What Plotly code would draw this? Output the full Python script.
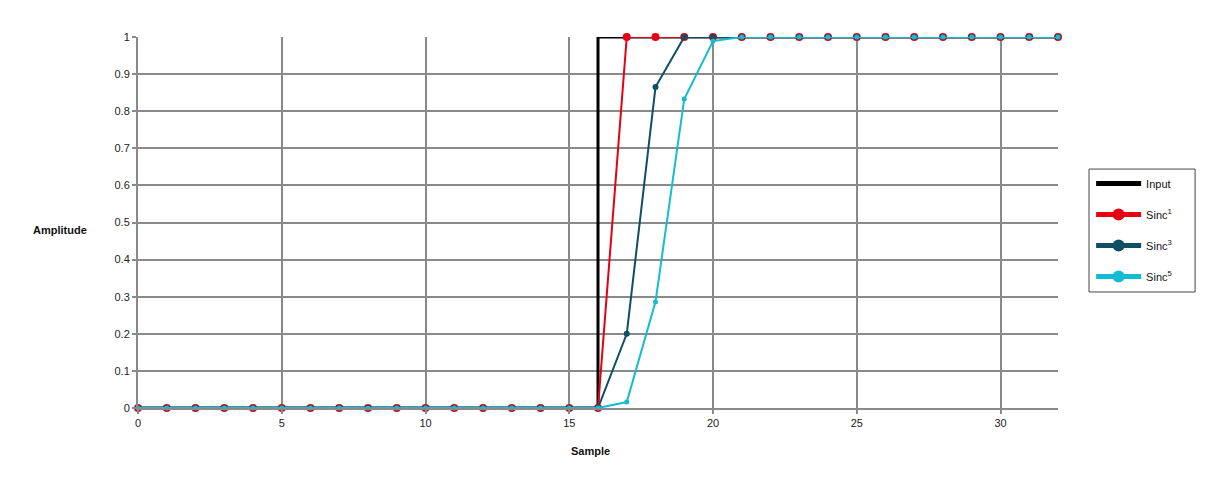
import plotly.graph_objects as go

samples = list(range(33))
input_y = [0] * 16 + [1] * 17
sinc1_y = [0] * 17 + [1] * 16
sinc3_y = [0] * 17 + [0.2, 0.865] + [1] * 14
sinc5_y = [0] * 17 + [0.016, 0.286, 0.833, 0.989] + [1] * 12

x_ticks = [0, 5, 10, 15, 20, 25, 30]
y_ticks = [0, 0.1, 0.2, 0.3, 0.4, 0.5, 0.6, 0.7, 0.8, 0.9, 1]

RED = "#E60012"
DARK = "#0E4F63"
CYAN = "#13BCD0"
GRID = "#8A8A8A"

fig = go.Figure()
fig.add_trace(go.Scatter(x=samples, y=input_y, mode="lines", name="Input",
                         line=dict(color="black", width=3, shape="hv"),
                         legendgroup="a", cliponaxis=False))
fig.add_trace(go.Scatter(x=samples, y=sinc1_y, mode="lines+markers", name="Sinc<sup>1</sup>",
                         line=dict(color=RED, width=2),
                         marker=dict(color=RED, size=8), legendgroup="b", cliponaxis=False))
fig.add_trace(go.Scatter(x=samples, y=sinc3_y, mode="lines+markers", name="Sinc<sup>3</sup>",
                         line=dict(color=DARK, width=2),
                         marker=dict(color=DARK, size=6), legendgroup="c", cliponaxis=False))
fig.add_trace(go.Scatter(x=samples, y=sinc5_y, mode="lines+markers", name="Sinc<sup>5</sup>",
                         line=dict(color=CYAN, width=2),
                         marker=dict(color=CYAN, size=5), legendgroup="d", cliponaxis=False))

fig.update_layout(
    width=1222, height=472,
    margin=dict(l=130, r=172, t=29, b=72),
    paper_bgcolor="white", plot_bgcolor="white",
    font=dict(family="Liberation Sans, Arial, sans-serif", size=11, color="#222"),
    showlegend=True,
    legend=dict(x=1.036, y=0.644, xanchor="left", yanchor="top",
                borderwidth=0, bgcolor="rgba(0,0,0,0)",
                itemsizing="constant", itemwidth=45, tracegroupgap=12,
                font=dict(size=11, color="#111")),
    shapes=[dict(type="rect", xref="paper", yref="paper",
                 x0=1.0337, x1=1.149, y0=0.3127, y1=0.644,
                 line=dict(color="#444", width=1), fillcolor="rgba(0,0,0,0)")],
    xaxis=dict(range=[0, 32], tickvals=x_ticks, showgrid=True, gridcolor=GRID, gridwidth=2,
               showline=True, linecolor=GRID, linewidth=2, zeroline=False,
               ticks="outside", ticklen=4, tickcolor=GRID, tickwidth=2),
    yaxis=dict(range=[0, 1], tickvals=y_ticks, ticktext=[str(v) for v in y_ticks],
               showgrid=True, gridcolor=GRID, gridwidth=2,
               showline=True, linecolor=GRID, linewidth=2, zeroline=False,
               ticks="outside", ticklen=4, tickcolor=GRID, tickwidth=2),
    annotations=[
        dict(text="<b>Amplitude</b>", xref="paper", yref="paper", x=-0.085, y=0.48,
             xanchor="center", yanchor="middle",
             showarrow=False, font=dict(size=11, color="#111")),
        dict(text="<b>Sample</b>", xref="paper", yref="paper", x=0.492, y=-0.116,
             xanchor="center", yanchor="middle",
             showarrow=False, font=dict(size=11, color="#111")),
    ],
)

fig.write_html("out.html")
